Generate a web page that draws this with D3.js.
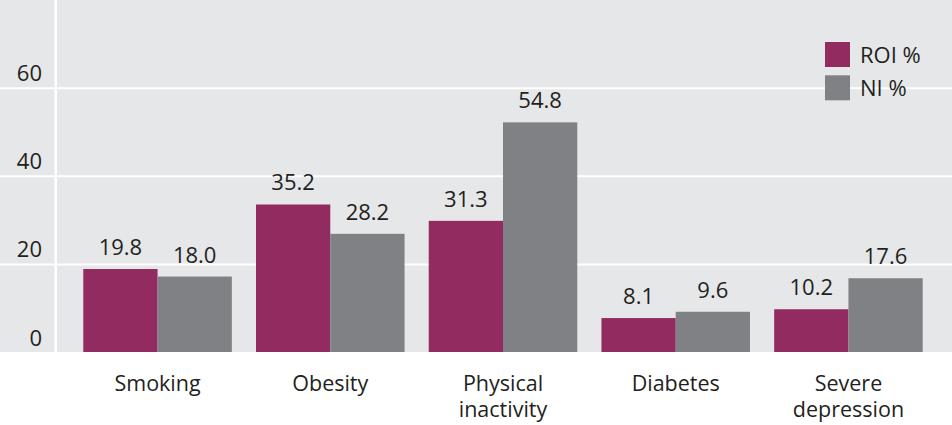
<!DOCTYPE html>
<html>
<head>
<meta charset="utf-8">
<script src="https://cdn.jsdelivr.net/npm/d3@7/dist/d3.min.js"></script>
<style>
  html, body { margin: 0; padding: 0; background: #ffffff; }
  svg { display: block; }
  text { font-family: "Open Sans", "DejaVu Sans", sans-serif; fill: #231f20; }
</style>
</head>
<body>
<svg id="chart" width="952" height="425"></svg>
<script>
// Risk factor prevalence, Republic of Ireland vs Northern Ireland
const categories = [["Smoking"], ["Obesity"], ["Physical", "inactivity"], ["Diabetes"], ["Severe", "depression"]];
const seriesNames = ["ROI %", "NI %"];
const roiValues = [19.8, 35.2, 31.3, 8.1, 10.2];
const niValues = [18.0, 28.2, 54.8, 9.6, 17.6];
const gridTicks = [0, 20, 40, 60];
const colors = ["#922b5f", "#808184"];

const W = 952, H = 425;
const plotTop = 0, plotBottom = 352, plotLeft = 56, plotRight = 950;

const svg = d3.select("#chart");

// panel background
svg.append("rect")
  .attr("x", 0).attr("y", 0)
  .attr("width", W).attr("height", plotBottom)
  .attr("fill", "#e6e7e8");

// value scale used for the bars
const y = d3.scaleLinear().domain([0, 84]).range([plotBottom, plotTop]);
// scale for the background grid rows
const yGrid = d3.scaleLinear().domain([0, 60]).range([plotBottom, 87.7]);

const keys = categories.map(c => c.join(" "));
const x0 = d3.scaleBand().domain(keys).range([plotLeft, plotRight])
  .paddingInner(0.14).paddingOuter(0.158);
const x1 = d3.scaleBand().domain(seriesNames).range([0, x0.bandwidth()]);

// horizontal grid lines across the full width + tick labels
const gridAxis = d3.axisLeft(yGrid).tickValues(gridTicks).tickSize(-W).tickFormat(d => d);
const g = svg.append("g").attr("transform", "translate(0,0)")
  .call(gridAxis);
g.select(".domain").remove();
g.selectAll(".tick line")
  .attr("stroke", "#ffffff").attr("stroke-width", 2)
  .attr("display", d => d === 0 ? "none" : null);
g.selectAll(".tick text")
  .attr("x", 42).attr("dy", "-7px")
  .attr("text-anchor", "end")
  .style("font-size", "22px")
  .style("font-family", "'Open Sans', sans-serif")
  .attr("fill", "#231f20");

// vertical separator between the tick column and the bars
svg.append("line")
  .attr("x1", 55.7).attr("x2", 55.7)
  .attr("y1", 0).attr("y2", plotBottom)
  .attr("stroke", "#ffffff").attr("stroke-width", 2.5);

const rows = keys.map((k, i) => ({ key: k, values: [roiValues[i], niValues[i]] }));

const groups = svg.append("g").selectAll("g")
  .data(rows).join("g")
  .attr("transform", d => `translate(${x0(d.key)},0)`);

groups.selectAll("rect")
  .data(d => d.values.map((v, j) => ({ name: seriesNames[j], v, j })))
  .join("rect")
  .attr("x", d => x1(d.name))
  .attr("y", d => y(d.v))
  .attr("width", x1.bandwidth())
  .attr("height", d => y(0) - y(d.v))
  .attr("fill", d => colors[d.j]);

groups.selectAll("text.val")
  .data(d => d.values.map((v, j) => ({ name: seriesNames[j], v, j })))
  .join("text")
  .attr("class", "val")
  .attr("x", d => x1(d.name) + x1.bandwidth() / 2)
  .attr("y", d => y(d.v) - 14)
  .attr("text-anchor", "middle")
  .style("font-size", "22px")
  .text(d => d.v.toFixed(1));

// category labels, one text per line
const catG = svg.append("g").selectAll("g")
  .data(categories).join("g")
  .attr("transform", (d, i) => `translate(${x0(keys[i]) + x0.bandwidth() / 2},0)`);
catG.selectAll("text")
  .data(d => d).join("text")
  .attr("x", 0)
  .attr("y", (d, i) => 391 + i * 26)
  .attr("text-anchor", "middle")
  .style("font-size", "21.5px")
  .text(d => d);

// legend
const legend = svg.append("g").attr("transform", "translate(825,42)");
seriesNames.forEach((name, i) => {
  legend.append("rect")
    .attr("x", 0).attr("y", i * 33.3)
    .attr("width", 25).attr("height", 25)
    .attr("fill", colors[i]);
  legend.append("text")
    .attr("x", 35).attr("y", i * 33.3 + 21)
    .style("font-size", "22px")
    .text(name);
});
</script>
</body>
</html>
